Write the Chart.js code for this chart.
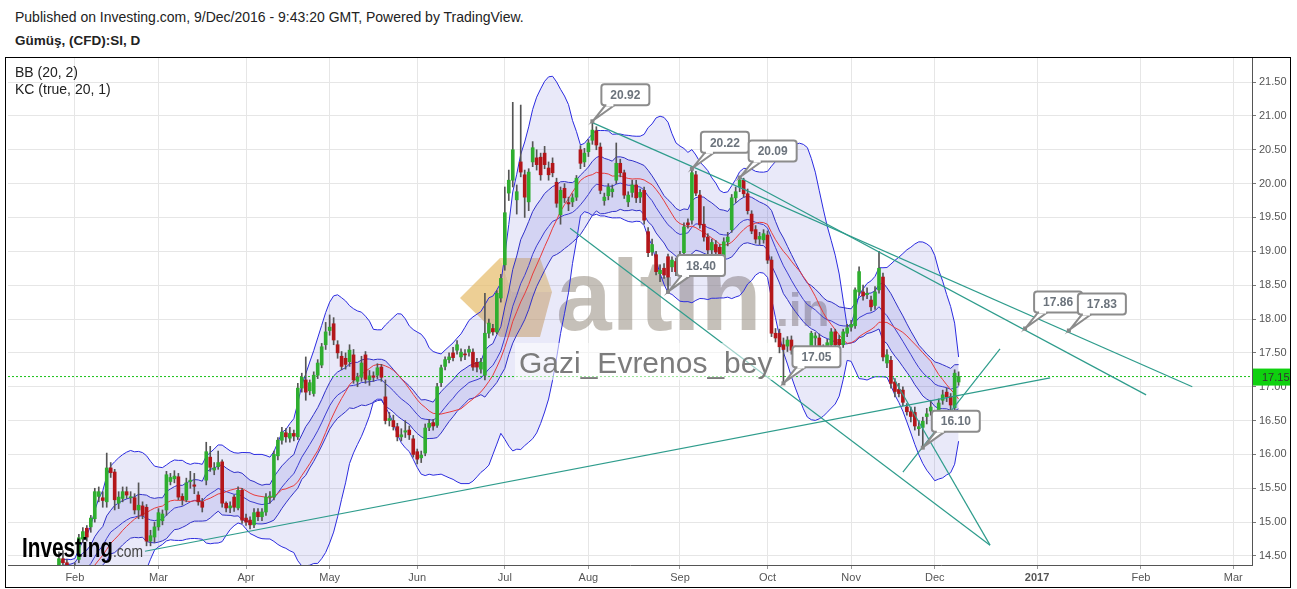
<!DOCTYPE html>
<html>
<head>
<meta charset="utf-8">
<script src="https://cdn.jsdelivr.net/npm/chart.js"></script>
<style>
  body { margin: 0; background: #fff; font-family: "Liberation Sans", Arial, sans-serif; }
  #t1 { position: absolute; left: 15px; top: 9px; font-size: 14px; color: #222; }
  #t2 { position: absolute; left: 15px; top: 33px; font-size: 13.5px; font-weight: bold; color: #222; }
  #box { position: absolute; left: 5px; top: 57px; width: 1286px; height: 531px; border: 1px solid #000; box-sizing: border-box; }
</style>
</head>
<body>
<div id="t1">Published on Investing.com, 9/Dec/2016 - 9:43:20 GMT, Powered by TradingView.</div>
<div id="t2">Gümüş, (CFD):SI, D</div>
<div id="box"><canvas id="c" width="1284" height="529"></canvas></div>
<script>
// daily candles, one per trading day (index 17 = 1 Feb 2016, 239 = 9 Dec 2016)
const opens = [
  14.00,13.95,13.90,13.85,13.96,13.90,14.05,13.95,14.12,14.16,
  14.05,14.20,14.26,14.30,14.46,14.40,14.25,14.15,14.45,14.75,
  14.91,14.93,15.05,15.38,15.36,15.30,15.80,15.74,15.28,15.35,
  15.45,15.36,15.36,15.18,15.24,15.22,14.72,14.78,14.93,15.02,
  15.18,15.60,15.64,15.67,15.38,15.33,15.60,15.55,15.40,15.30,
  15.62,15.96,15.77,15.82,15.89,15.28,15.21,15.37,15.21,15.47,
  15.06,15.03,14.96,15.15,15.08,15.15,15.37,15.37,15.98,16.21,
  16.32,16.24,16.31,16.26,16.98,17.10,16.94,16.90,17.17,17.32,
  17.62,17.83,17.93,17.62,17.45,17.42,17.37,17.47,17.08,17.14,
  17.47,17.10,17.16,17.17,17.29,16.85,16.50,16.50,16.41,16.26,
  16.33,16.36,16.23,16.04,15.95,16.02,16.40,16.47,16.43,17.06,
  17.30,17.40,17.50,17.54,17.44,17.48,17.51,17.51,17.36,17.26,
  17.17,17.79,17.86,17.81,18.31,18.80,19.86,20.05,19.76,20.32,
  20.13,19.73,20.32,20.38,20.39,20.45,20.23,20.30,20.02,19.54,
  19.93,19.72,19.73,19.80,20.50,20.32,20.47,20.64,20.78,20.54,
  19.75,19.82,19.88,20.05,20.30,20.16,19.73,19.87,19.98,19.80,
  19.90,19.29,18.99,18.95,18.67,18.75,18.92,18.77,18.85,18.72,
  18.98,19.42,19.46,20.13,19.83,19.40,19.21,19.02,19.10,19.06,
  18.87,19.14,19.32,19.79,19.95,20.05,19.85,19.55,19.32,19.18,
  19.17,19.24,18.87,17.79,17.79,17.62,17.60,17.69,17.50,17.50,
  17.51,17.44,17.50,17.72,17.72,17.56,17.58,17.62,17.81,17.70,
  17.62,17.79,17.88,17.90,18.40,18.40,18.36,18.28,18.20,18.43,
  18.62,17.35,17.39,17.07,16.96,16.95,16.70,16.63,16.62,16.38,
  16.40,16.56,16.64,16.55,16.63,16.80,16.92,16.85,16.69,17.07
];
const highs = [
  14.12,14.05,13.98,14.02,14.00,14.12,14.10,14.18,14.22,14.20,
  14.25,14.32,14.34,14.56,14.58,14.45,14.35,14.40,14.82,14.92,
  14.95,15.10,15.50,15.52,15.45,16.02,15.88,15.78,15.45,15.52,
  15.52,15.45,15.42,15.58,15.30,15.26,14.88,15.00,15.20,15.18,
  15.75,15.72,15.76,15.72,15.42,15.65,15.75,15.72,15.45,15.35,
  16.18,16.12,15.88,16.05,15.92,15.30,15.30,15.40,15.52,15.50,
  15.12,15.08,15.20,15.20,15.20,15.42,15.45,16.05,16.25,16.40,
  16.38,16.40,16.36,17.05,17.20,17.44,17.10,17.22,17.40,17.64,
  17.95,18.06,18.02,17.68,17.52,17.50,17.62,17.55,17.20,17.45,
  17.52,17.24,17.22,17.34,17.33,17.10,16.62,16.58,16.46,16.38,
  16.50,16.42,16.28,16.08,16.05,16.45,16.52,16.52,17.05,17.32,
  17.44,17.50,17.58,17.68,17.56,17.55,17.60,17.56,17.42,17.42,
  18.38,18.00,17.92,18.42,18.66,19.95,20.20,21.20,19.98,21.16,
  20.20,20.22,20.62,20.50,20.45,20.55,20.32,20.38,20.08,19.95,
  20.00,19.80,19.85,20.12,20.56,20.52,20.65,20.92,20.84,20.60,
  19.86,20.00,19.98,20.60,20.36,20.20,19.88,20.05,20.05,19.92,
  19.95,19.35,19.18,19.00,18.80,18.82,18.96,18.92,18.90,19.00,
  19.42,19.48,20.22,20.18,19.90,19.66,19.26,19.18,19.16,19.10,
  19.20,19.28,19.84,19.95,20.09,20.08,19.92,19.60,19.38,19.28,
  19.32,19.30,18.92,17.86,17.85,17.72,17.74,17.75,17.60,17.58,
  17.56,17.58,17.82,17.80,17.78,17.62,17.70,17.86,17.85,17.76,
  17.85,17.92,17.98,18.46,18.77,18.50,18.46,18.34,18.48,19.00,
  18.68,17.55,17.45,17.12,17.05,17.00,16.75,16.70,16.70,16.50,
  16.55,16.68,16.80,16.62,16.82,16.95,16.98,16.90,17.25,17.22
];
const lows = [
  13.85,13.82,13.78,13.80,13.82,13.88,13.90,13.92,14.05,14.00,
  14.02,14.12,14.10,14.25,14.35,14.20,14.05,14.10,14.40,14.70,
  14.72,14.85,15.00,15.30,15.22,15.22,15.66,15.18,15.20,15.30,
  15.35,15.28,15.12,15.05,15.05,14.65,14.65,14.70,14.88,14.96,
  15.10,15.55,15.58,15.33,15.25,15.30,15.50,15.42,15.25,15.15,
  15.55,15.75,15.70,15.78,15.22,15.15,15.14,15.16,15.18,14.98,
  14.95,14.90,14.92,15.02,15.02,15.10,15.28,15.33,15.92,16.15,
  16.18,16.18,16.20,16.22,16.92,16.80,16.88,16.86,17.12,17.28,
  17.55,17.76,17.62,17.42,17.25,17.26,17.30,17.05,17.00,17.08,
  17.05,17.02,17.08,17.12,17.08,16.45,16.42,16.36,16.20,16.20,
  16.25,16.22,15.96,15.86,15.88,15.98,16.35,16.36,16.40,17.00,
  17.25,17.35,17.38,17.48,17.38,17.40,17.45,17.24,17.22,17.20,
  17.10,17.72,17.76,17.78,18.25,18.72,19.75,19.95,19.55,20.10,
  19.50,19.60,20.25,20.20,20.05,20.22,20.05,20.10,19.65,19.40,
  19.72,19.60,19.66,19.75,20.22,20.25,20.40,20.58,20.50,19.85,
  19.68,19.76,19.80,20.00,20.10,19.78,19.66,19.80,19.72,19.72,
  19.40,18.92,18.94,18.65,18.55,18.60,18.40,18.70,18.64,18.66,
  18.92,19.34,19.40,19.82,19.34,19.15,18.96,18.96,18.94,18.80,
  18.82,19.08,19.28,19.72,19.88,19.80,19.55,19.26,19.12,19.10,
  19.12,18.82,17.74,17.66,17.50,17.05,17.52,17.48,17.42,17.40,
  17.38,17.40,17.46,17.60,17.50,17.48,17.52,17.58,17.56,17.58,
  17.58,17.74,17.82,17.86,18.35,18.28,18.30,18.12,18.14,18.38,
  17.38,17.28,16.98,16.85,16.85,16.72,16.58,16.48,16.36,16.28,
  16.10,16.45,16.58,16.32,16.55,16.74,16.78,16.62,16.62,17.02
];
const closes = [
  13.95,13.90,13.85,13.96,13.90,14.05,13.95,14.12,14.16,14.05,
  14.20,14.26,14.15,14.46,14.40,14.25,14.15,14.32,14.77,14.86,
  14.78,15.06,15.45,15.45,15.32,15.80,15.73,15.33,15.37,15.45,
  15.40,15.37,15.18,15.25,15.10,14.72,14.80,14.93,15.14,15.12,
  15.70,15.66,15.68,15.37,15.33,15.58,15.62,15.53,15.30,15.22,
  16.04,15.81,15.80,15.88,15.28,15.21,15.24,15.22,15.47,15.03,
  15.00,14.96,15.14,15.08,15.15,15.37,15.38,16.00,16.21,16.33,
  16.26,16.31,16.27,16.98,17.14,16.92,17.06,17.17,17.35,17.59,
  17.81,17.88,17.69,17.50,17.30,17.33,17.54,17.10,17.14,17.35,
  17.11,17.16,17.14,17.28,17.14,16.50,16.53,16.41,16.26,16.29,
  16.35,16.29,16.00,15.93,15.99,16.39,16.46,16.42,17.00,17.28,
  17.40,17.44,17.43,17.62,17.51,17.47,17.55,17.29,17.29,17.36,
  17.79,17.94,17.81,18.38,18.60,19.57,20.05,20.50,19.88,20.17,
  19.80,20.17,20.53,20.28,20.13,20.28,20.13,20.16,19.71,19.90,
  19.79,19.70,19.79,20.08,20.30,20.45,20.60,20.79,20.57,19.90,
  19.80,19.95,19.92,20.30,20.16,19.83,19.83,19.98,19.79,19.87,
  19.46,18.98,19.10,18.70,18.72,18.65,18.62,18.87,18.70,18.95,
  19.36,19.39,20.16,19.86,19.39,19.21,19.02,19.13,18.99,18.84,
  19.14,19.21,19.79,19.88,20.05,19.85,19.60,19.30,19.18,19.22,
  19.26,18.87,17.79,17.72,17.59,17.55,17.69,17.54,17.52,17.48,
  17.44,17.52,17.79,17.75,17.54,17.52,17.65,17.81,17.62,17.62,
  17.81,17.87,17.92,18.43,18.70,18.34,18.38,18.18,18.40,18.75,
  17.44,17.47,17.05,16.93,16.90,16.77,16.63,16.56,16.42,16.41,
  16.49,16.60,16.70,16.40,16.76,16.88,16.85,16.73,17.20,17.15
];

// x axis: bar index of each month start, and the label shown there
const monthIdx = [17, 38, 60, 81, 103, 125, 146, 169, 191, 212, 233, 258.7, 284.8, 308];
const monthLabels = ['Feb', 'Mar', 'Apr', 'May', 'Jun', 'Jul', 'Aug', 'Sep', 'Oct', 'Nov', 'Dec', '2017', 'Feb', 'Mar'];
const priceTicks = [14.5, 15, 15.5, 16, 16.5, 17, 17.5, 18, 18.5, 19, 19.5, 20, 20.5, 21, 21.5];
const lastPrice = 17.15;

// hand drawn trend lines: [startIdx, startPrice, endIdx, endPrice]
const trendLines = [
  [34.6, 14.57, 262.0, 17.13],
  [147.0, 20.90, 297.7, 17.00],
  [184.0, 20.09, 286.1, 16.88],
  [141.4, 19.34, 246.9, 14.66],
  [222.5, 17.14, 246.9, 14.66],
  [225.0, 15.74, 249.4, 17.56]
];
// price callouts
const calloutIdx = [147, 172, 184, 166, 195, 230, 255.7, 266.7];
const calloutPrice = [20.92, 20.22, 20.09, 18.40, 17.05, 16.10, 17.86, 17.83];

const X_MIN = 0.2, X_MAX = 312.7;
const Y_MIN = 14.367, Y_MAX = 21.855;
const FONT = '"Liberation Sans", Arial, sans-serif';

// Bollinger Bands (20, 2) and Keltner Channels (true range, 20, 1)
const n = closes.length;
const bbMid = [], bbUp = [], bbLo = [];
for (let i = 0; i < n; i++) {
  const w = closes.slice(Math.max(0, i - 19), i + 1);
  const m = w.reduce((a, b) => a + b, 0) / w.length;
  const sd = Math.sqrt(w.reduce((a, b) => a + (b - m) * (b - m), 0) / w.length);
  bbMid.push(m); bbUp.push(m + 2 * sd); bbLo.push(m - 2 * sd);
}
const k = 2 / 21;
let ema = closes[0], rng = highs[0] - lows[0];
const kcMid = [], kcUp = [], kcLo = [];
for (let i = 0; i < n; i++) {
  if (i > 0) {
    const tr = Math.max(highs[i] - lows[i], Math.abs(highs[i] - closes[i - 1]), Math.abs(lows[i] - closes[i - 1]));
    ema += k * (closes[i] - ema);
    rng += k * (tr - rng);
  }
  kcMid.push(ema); kcUp.push(ema + rng); kcLo.push(ema - rng);
}

const pts = arr => arr.map((v, i) => ({ x: i, y: v }));
const lineDs = (data, color, order, extra) => Object.assign({
  type: 'line', data: data, borderColor: color, borderWidth: 1,
  pointRadius: 0, tension: 0, fill: false, order: order
}, extra || {});

const datasets = [];
trendLines.forEach(t => {
  datasets.push(lineDs([{ x: t[0], y: t[1] }, { x: t[2], y: t[3] }], '#2e9c8c', -1, { borderWidth: 1.2 }));
});
datasets.push({
  type: 'bar', order: 0, grouped: false, barThickness: 3, minBarLength: 1,
  data: closes.map((c, i) => ({ x: i, y: [opens[i], c] })),
  backgroundColor: closes.map((c, i) => c >= opens[i] ? '#2fae2f' : '#b3161a')
});
datasets.push({
  type: 'bar', order: 1, grouped: false, barThickness: 1,
  data: highs.map((h, i) => ({ x: i, y: [lows[i], h] })),
  backgroundColor: '#555'
});
datasets.push(lineDs([{ x: X_MIN, y: lastPrice }, { x: X_MAX, y: lastPrice }], '#16c016', 2, { borderDash: [2, 2] }));
datasets.push(lineDs(pts(bbMid), '#e83a3a', 3));
datasets.push(lineDs(pts(kcMid), '#3b3bd0', 4));
const kcUpIndex = datasets.length;
datasets.push(lineDs(pts(kcUp), '#2f2fc8', 4, { fill: { target: kcUpIndex + 1 }, backgroundColor: 'rgba(70,70,205,0.13)' }));
datasets.push(lineDs(pts(kcLo), '#2f2fc8', 4));
const bbUpIndex = datasets.length;
datasets.push(lineDs(pts(bbUp), '#2a2ae0', 5, { fill: { target: bbUpIndex + 1 }, backgroundColor: 'rgba(70,70,205,0.12)' }));
datasets.push(lineDs(pts(bbLo), '#2a2ae0', 5));

// page coordinates -> canvas coordinates
const OX = 6, OY = 58;

const backdrop = {
  id: 'backdrop',
  beforeDatasetsDraw(chart) {
    const c = chart.ctx;
    c.save();
    // altin.in logo mark
    c.fillStyle = 'rgba(238,204,128,0.7)';
    c.beginPath();
    c.moveTo(500 - OX, 258 - OY); c.lineTo(540 - OX, 258 - OY); c.lineTo(552 - OX, 292 - OY);
    c.lineTo(512 - OX, 292 - OY); c.closePath(); c.fill();
    c.fillStyle = 'rgba(230,186,104,0.7)';
    c.beginPath();
    c.moveTo(460 - OX, 298 - OY); c.lineTo(500 - OX, 258 - OY); c.lineTo(512 - OX, 292 - OY);
    c.lineTo(500 - OX, 337 - OY); c.closePath(); c.fill();
    c.fillStyle = 'rgba(215,170,95,0.55)';
    c.beginPath();
    c.moveTo(512 - OX, 292 - OY); c.lineTo(552 - OX, 292 - OY); c.lineTo(540 - OX, 337 - OY);
    c.lineTo(500 - OX, 337 - OY); c.closePath(); c.fill();
    // watermark word
    c.fillStyle = 'rgba(150,140,128,0.55)';
    c.font = 'bold 100px ' + FONT;
    c.textBaseline = 'alphabetic';
    c.fillText('altın', 556 - OX, 330 - OY);
    c.font = 'bold 46px ' + FONT;
    c.fillText('.in', 776 - OX, 326 - OY);
    c.restore();
  }
};

function roundRect(c, x, y, w, h, r) {
  c.beginPath();
  c.moveTo(x + r, y); c.lineTo(x + w - r, y); c.quadraticCurveTo(x + w, y, x + w, y + r);
  c.lineTo(x + w, y + h - r); c.quadraticCurveTo(x + w, y + h, x + w - r, y + h);
  c.lineTo(x + r, y + h); c.quadraticCurveTo(x, y + h, x, y + h - r);
  c.lineTo(x, y + r); c.quadraticCurveTo(x, y, x + r, y);
  c.closePath();
}

const overlay = {
  id: 'overlay',
  afterDatasetsDraw(chart) {
    const c = chart.ctx, xs = chart.scales.x, ys = chart.scales.y;
    c.save();
    // callouts
    calloutIdx.forEach((idx, j) => {
      const px = xs.getPixelForValue(idx), py = ys.getPixelForValue(calloutPrice[j]);
      const bx = px + 9, by = py - 37, bw = 48, bh = 21;
      c.strokeStyle = '#8c8c8c'; c.fillStyle = '#fff'; c.lineWidth = 2;
      c.beginPath();
      c.moveTo(px + 1, py - 1); c.lineTo(bx + 4, by + bh); c.lineTo(bx + 13, by + bh); c.closePath();
      c.fill(); c.stroke();
      roundRect(c, bx, by, bw, bh, 3);
      c.fill(); c.stroke();
      c.fillStyle = '#fff';
      c.fillRect(bx + 5, by + bh - 2, 7, 3);
      c.fillStyle = '#6b737c';
      c.font = 'bold 12px ' + FONT;
      c.textAlign = 'center'; c.textBaseline = 'middle';
      c.fillText(calloutPrice[j].toFixed(2), bx + bw / 2, by + bh / 2 + 1);
      c.fillStyle = '#888';
      c.fillRect(px - 2, py - 2, 4, 4);
    });
    // author tag
    c.fillStyle = 'rgba(255,255,255,0.55)';
    c.fillRect(515 - OX, 343 - OY, 262, 37);
    c.fillStyle = '#7c7c7c';
    c.font = '30px ' + FONT;
    c.textAlign = 'left'; c.textBaseline = 'alphabetic';
    c.fillText('Gazi_Evrenos_bey', 519 - OX, 373 - OY);
    // Investing.com logo
    c.font = 'bold 28px ' + FONT;
    const w1 = c.measureText('Investing').width;
    c.save();
    c.translate(22 - OX, 557 - OY);
    c.scale(91 / w1, 1);
    c.fillStyle = '#000';
    c.fillText('Investing', 0, 0);
    c.restore();
    c.font = '17px ' + FONT;
    const w2 = c.measureText('.com').width;
    c.save();
    c.translate(113 - OX, 557 - OY);
    c.scale(30 / w2, 1);
    c.fillStyle = '#444';
    c.fillText('.com', 0, 0);
    c.restore();
    c.restore();
  },
  afterDraw(chart) {
    const c = chart.ctx, ys = chart.scales.y, area = chart.chartArea;
    c.save();
    c.fillStyle = '#222';
    c.font = '14px ' + FONT;
    c.textAlign = 'left'; c.textBaseline = 'alphabetic';
    c.fillText('BB (20, 2)', 15 - OX, 77 - OY);
    c.fillText('KC (true, 20, 1)', 15 - OX, 94 - OY);
    // last price marker on the price axis
    const py = ys.getPixelForValue(lastPrice);
    c.fillStyle = '#0fd10f';
    c.fillRect(area.right + 1, py - 8, chart.width - area.right - 1, 17);
    c.fillStyle = '#333';
    c.font = '11px ' + FONT;
    c.textBaseline = 'middle';
    c.fillText(lastPrice.toFixed(2), area.right + 10, py + 1);
    c.restore();
  }
};

new Chart(document.getElementById('c'), {
  type: 'bar',
  data: { datasets: datasets },
  options: {
    responsive: false,
    animation: false,
    events: [],
    devicePixelRatio: 1,
    layout: { padding: { left: 2, top: 0, right: 0, bottom: 0 } },
    plugins: { legend: { display: false }, tooltip: { enabled: false } },
    scales: {
      x: {
        type: 'linear', min: X_MIN, max: X_MAX, offset: false,
        grid: { color: '#e6e6e6', offset: false, tickLength: 4, tickColor: '#999' },
        border: { color: '#555' },
        afterBuildTicks: s => { s.ticks = monthIdx.map(v => ({ value: v })); },
        afterFit: s => { s.height = 22; s.paddingLeft = 0; s.paddingRight = 0; },
        ticks: {
          autoSkip: false, maxRotation: 0, padding: 2, color: '#555',
          font: ctx => ({ family: FONT, size: 11, weight: ctx.tick && ctx.tick.label === '2017' ? 'bold' : 'normal' }),
          callback: (v, i) => monthLabels[i]
        }
      },
      y: {
        type: 'linear', position: 'right', min: Y_MIN, max: Y_MAX,
        grid: { color: '#e6e6e6', tickLength: 4, tickColor: '#777' },
        border: { color: '#555' },
        afterBuildTicks: s => { s.ticks = priceTicks.map(v => ({ value: v })); },
        afterFit: s => { s.width = 38; s.paddingTop = 0; s.paddingBottom = 0; },
        ticks: {
          padding: 3, color: '#555', font: { family: FONT, size: 11 },
          callback: v => Number(v).toFixed(2)
        }
      }
    }
  },
  plugins: [backdrop, overlay]
});
</script>
</body>
</html>
